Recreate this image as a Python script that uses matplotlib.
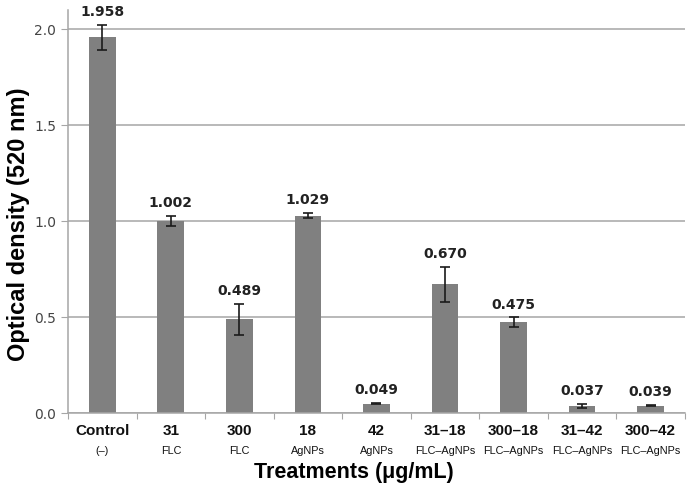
import matplotlib
matplotlib.use("Agg")
import matplotlib.pyplot as plt
import matplotlib.transforms as mtransforms
import numpy as np

main_labels = ["Control", "31", "300", "18", "42", "31–18", "300–18", "31–42", "300–42"]
sub_labels = ["(–)", "FLC", "FLC", "AgNPs", "AgNPs", "FLC–AgNPs", "FLC–AgNPs", "FLC–AgNPs", "FLC–AgNPs"]
values = [1.958, 1.002, 0.489, 1.029, 0.049, 0.670, 0.475, 0.037, 0.039]
errors = [0.065, 0.027, 0.080, 0.014, 0.004, 0.090, 0.024, 0.010, 0.004]
value_text = ["1.958", "1.002", "0.489", "1.029", "0.049", "0.670", "0.475", "0.037", "0.039"]
yticks = [0.0, 0.5, 1.0, 1.5, 2.0]

plt.rcParams['font.family'] = ['Liberation Sans', 'DejaVu Sans']

fig = plt.figure(figsize=(6.87, 4.93), dpi=100)
ax = fig.add_axes([0.099, 0.162, 0.898, 0.818])

x = np.arange(len(values))
ax.set_axisbelow(True)
ax.yaxis.grid(True, color="#a6a6a6", linewidth=1.1)
ax.bar(x, values, width=0.39, color="#808080", zorder=2)
ax.errorbar(x, values, yerr=errors, fmt="none", ecolor="#1a1a1a", elinewidth=1.2,
            capsize=3.5, capthick=1.2, zorder=3)

for xi, v, e, t in zip(x, values, errors, value_text):
    ax.text(xi, v + e + 0.03, t, ha="center", va="bottom", fontsize=10,
            fontweight="bold", color="#222222", family=["DejaVu Sans"])

ax.set_xlim(-0.5, len(values) - 0.5)
ax.set_ylim(0, 2.1)
ax.set_yticks(yticks)
ax.set_yticklabels([f"{t:.1f}" for t in yticks], fontsize=10, color="#444444",
                   family=["DejaVu Sans"])
ax.set_xticks(np.arange(len(values) + 1) - 0.5)
ax.set_xticklabels([])
ax.tick_params(axis="x", length=4, color="#a6a6a6", direction="out")
ax.tick_params(axis="y", length=5, color="#a6a6a6", direction="out")

for s in ["top", "right"]:
    ax.spines[s].set_visible(False)
for s in ["left", "bottom"]:
    ax.spines[s].set_color("#a6a6a6")
    ax.spines[s].set_linewidth(1.1)

trans = mtransforms.blended_transform_factory(ax.transData, ax.transAxes)
for xi, m, s in zip(x, main_labels, sub_labels):
    ax.text(xi, -0.028, m, transform=trans, ha="center", va="top", fontsize=11,
            fontweight="bold", color="#111111")
    ax.text(xi, -0.082, s, transform=trans, ha="center", va="top", fontsize=7.8,
            color="#111111")

fig.text(0.027, 0.546, "Optical density (520 nm)", rotation=90, ha="center",
         va="center", fontsize=17, fontweight="bold")
fig.text(0.515, 0.041, "Treatments (μg/mL)", ha="center", va="center", fontsize=15.5,
         fontweight="bold")

fig.savefig("out.png", dpi=100)
